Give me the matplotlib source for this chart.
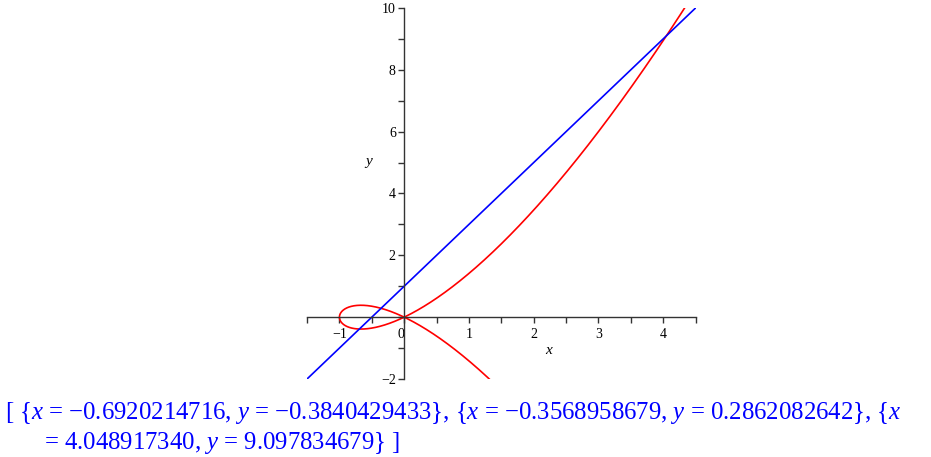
import numpy as np
import matplotlib.pyplot as plt

# view window
x_range = [-1.5, 4.5]
y_range = [-2, 10]

# blue line  y = slope*x + intercept
line_slope = 2
line_intercept = 1

# red nodal cubic  y^2 = x^3 + x^2, drawn through t: x = t^2-1, y = t*(t^2-1)
curve_t = [-1.6, 2.4]

# intersection points printed below the plot
solutions = [(-0.6920214716, -0.3840429433),
             (-0.3568958679, 0.2862082642),
             (4.048917340, 9.097834679)]

x_major = [-1, 0, 1, 2, 3, 4]
y_major = [-2, 2, 4, 6, 8, 10]

plt.rcParams['font.family'] = ['Liberation Serif', 'DejaVu Serif']
plt.rcParams['mathtext.fontset'] = 'custom'
plt.rcParams['mathtext.rm'] = 'Liberation Serif'
plt.rcParams['mathtext.it'] = 'Liberation Serif:italic'

fig = plt.figure(figsize=(9.31, 4.57), dpi=100)
ax = fig.add_axes([0.3298, 0.1707, 0.4173, 0.8118])

t = np.linspace(curve_t[0], curve_t[1], 2000)
cx = t**2 - 1
cy = t * (t**2 - 1)
ax.plot(cx, cy, color='#ff0000', lw=1.2)

lx = np.array(x_range)
ax.plot(lx, line_slope * lx + line_intercept, color='#0000ff', lw=1.2)

ax.set_xlim(x_range)
ax.set_ylim(y_range)

for s in ['top', 'right']:
    ax.spines[s].set_visible(False)
ax.spines['left'].set_position(('data', 0))
ax.spines['bottom'].set_position(('data', 0))
for s in ['left', 'bottom']:
    ax.spines[s].set_color('#333333')
    ax.spines[s].set_linewidth(1.0)

def fmt(v):
    return '\u2212%d' % -v if v < 0 else '%d' % v

xt = np.arange(-1.5, 4.51, 0.5)
yt = np.arange(-2, 10.1, 1)
ax.set_xticks(xt)
ax.set_xticklabels([fmt(v) if v in x_major else '' for v in xt])
ax.set_yticks(yt)
ax.set_yticklabels([fmt(v) if v in y_major else '' for v in yt])
ax.tick_params(direction='out', length=4, width=1, color='#333333',
               labelsize=10, pad=2)
ax.tick_params(axis='x', pad=4)
for lab in ax.get_xticklabels():
    if lab.get_text() == '0':
        lab.set_horizontalalignment('right')

ax.text(2.24, -1.07, '$x$', fontsize=11, ha='center', va='center')
ax.text(-0.55, 4.98, '$y$', fontsize=11, ha='center', va='center')

parts = ['{$x$ = %s, $y$ = %s}' % (('%.10f' % a).replace('-', '\u2212'),
                                    ('%.10f' % b).replace('-', '\u2212'))
         for a, b in solutions[:2]]
line1 = '[ ' + ', '.join(parts) + ', {$x$'
line2 = '= %.9f, $y$ = %.9f} ]' % solutions[2]
fig.text(5 / 931, 1 - 419 / 457, line1, color='#0000ff', fontsize=17.8,
         va='baseline')
fig.text(44 / 931, 1 - 449 / 457, line2, color='#0000ff', fontsize=17.8,
         va='baseline')

fig.savefig('out.png', dpi=100)
